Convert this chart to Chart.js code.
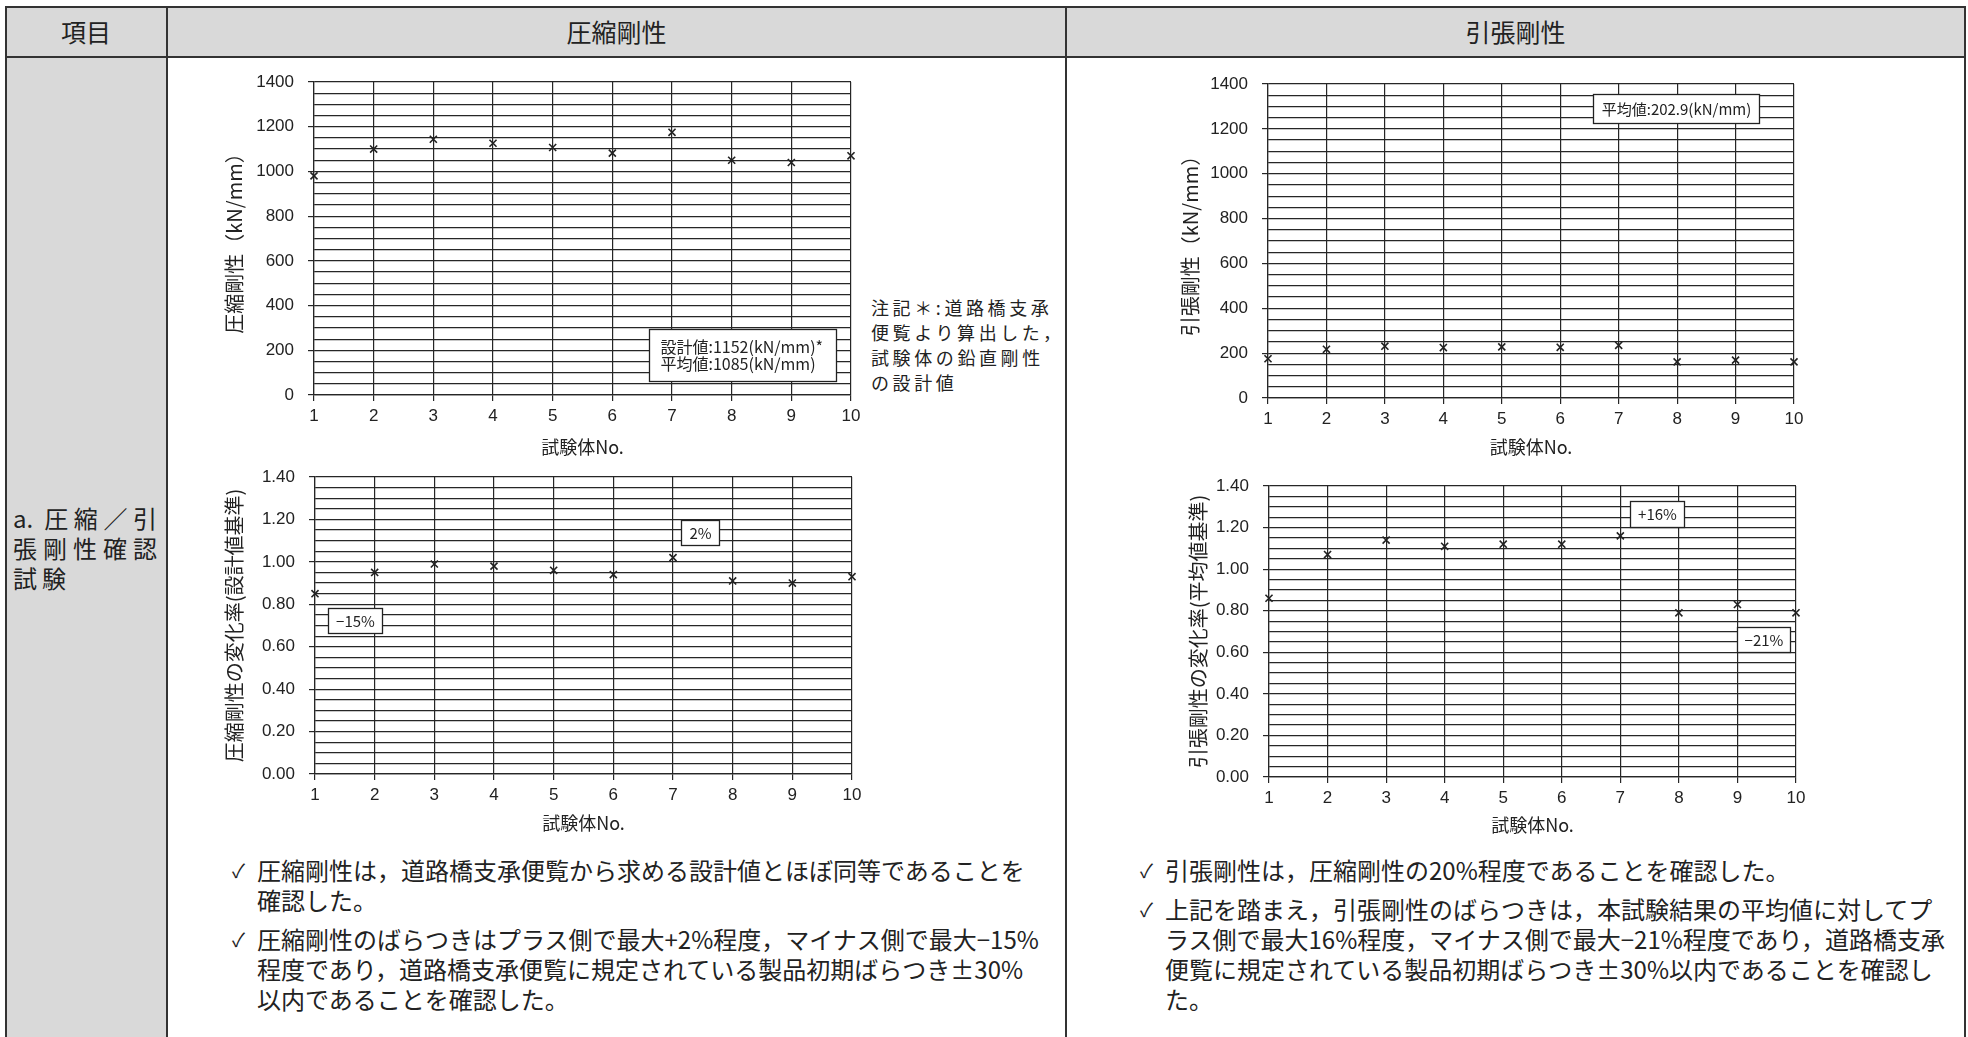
<!DOCTYPE html>
<html lang="ja">
<head>
<meta charset="utf-8">
<script src="https://cdn.jsdelivr.net/npm/chart.js@4.4.1/dist/chart.umd.min.js"></script>
<style>
  html, body { margin: 0; padding: 0; background: #fff; }
  body { width: 1968px; height: 1037px; position: relative; overflow: hidden;
         font-family: "Noto Sans CJK JP", sans-serif; color: #222; }
  .gray { position: absolute; background: #d9d9d9; }
  .line { position: absolute; background: #333; }
  .head { position: absolute; top: 6px; height: 51px; line-height: 51px; font-size: 25px; text-align: center; }
  .item-name { position: absolute; left: 13px; top: 503px; width: 144px; font-size: 24px; line-height: 30px; }
  .item-name div { text-align: justify; text-align-last: justify; }
  .item-name div.last { text-align: left; text-align-last: left; letter-spacing: 5px; }
  .note { position: absolute; left: 871px; top: 295px; font-size: 18px; line-height: 25px; letter-spacing: 3.6px; white-space: nowrap; }
  .memo { position: absolute; top: 855px; font-size: 24px; letter-spacing: 0; white-space: nowrap; }
  .memo .item { position: relative; padding-left: 25px; line-height: 30px; margin-bottom: 9px; }
  .memo .ck { position: absolute; left: 0; font-size: 19px; }
</style>
</head>
<body>

<!-- table frame -->
<div class="gray" style="left:5px; top:6px; width:1960px; height:51px;"></div>
<div class="gray" style="left:5px; top:57px; width:162px; height:1000px;"></div>
<div class="line" style="left:5px; top:6px; width:1961px; height:1.5px;"></div>
<div class="line" style="left:5px; top:56px; width:1961px; height:1.5px;"></div>
<div class="line" style="left:5px; top:6px; width:1.5px; height:1040px;"></div>
<div class="line" style="left:166px; top:6px; width:1.5px; height:1040px;"></div>
<div class="line" style="left:1065px; top:6px; width:1.5px; height:1040px;"></div>
<div class="line" style="left:1964px; top:6px; width:1.5px; height:1040px;"></div>

<div class="head" style="left:5px; width:162px;">項目</div>
<div class="head" style="left:167px; width:899px;">圧縮剛性</div>
<div class="head" style="left:1066px; width:899px;">引張剛性</div>

<div class="item-name">
  <div>a. 圧縮／引</div>
  <div>張剛性確認</div>
  <div class="last">試験</div>
</div>

<div class="note">注記＊:道路橋支承<br>便覧より算出した，<br>試験体の鉛直剛性<br>の設計値</div>

<div class="memo" style="left:232px;">
  <div class="item"><span class="ck">✓</span>圧縮剛性は，道路橋支承便覧から求める設計値とほぼ同等であることを<br>確認した。</div>
  <div class="item"><span class="ck">✓</span>圧縮剛性のばらつきはプラス側で最大+2%程度，マイナス側で最大−15%<br>程度であり，道路橋支承便覧に規定されている製品初期ばらつき±30%<br>以内であることを確認した。</div>
</div>

<div class="memo" style="left:1140px;">
  <div class="item"><span class="ck">✓</span>引張剛性は，圧縮剛性の20%程度であることを確認した。</div>
  <div class="item"><span class="ck">✓</span>上記を踏まえ，引張剛性のばらつきは，本試験結果の平均値に対してプ<br>ラス側で最大16%程度，マイナス側で最大−21%程度であり，道路橋支承<br>便覧に規定されている製品初期ばらつき±30%以内であることを確認し<br>た。</div>
</div>

<script>
// 試験体No.
const specimenNo = [1, 2, 3, 4, 5, 6, 7, 8, 9, 10];

// 圧縮剛性 (kN/mm) と設計値基準の変化率
const compStiffness = [980, 1100, 1144, 1126, 1107, 1082, 1175, 1050, 1040, 1070];
const compRatio = [0.85, 0.95, 0.99, 0.98, 0.96, 0.94, 1.02, 0.91, 0.90, 0.93];

// 引張剛性 (kN/mm) と平均値基準の変化率
const tensStiffness = [175, 217, 231, 225, 228, 226, 235, 161, 169, 161];
const tensRatio = [0.86, 1.07, 1.14, 1.11, 1.12, 1.12, 1.16, 0.79, 0.83, 0.79];

// y軸の目盛ラベル
const stiffTicks = [0, 200, 400, 600, 800, 1000, 1200, 1400];
const ratioTicks = [0.00, 0.20, 0.40, 0.60, 0.80, 1.00, 1.20, 1.40];

const YW = 130, PT = 25, PR = 40, XH = 75;
const tickFont = { family: '"Liberation Sans", Arial, sans-serif', size: 17 };
const xTitleFont = { family: '"Noto Sans CJK JP", sans-serif', size: 18 };
const yTitleFont = { family: '"Noto Sans CJK JP", sans-serif', size: 20 };
const ink = '#222';
const gridInk = '#262626';

function noteBoxes(notes) {
    return {
        id: 'noteBoxes',
        afterDatasetsDraw(chart) {
            const { ctx, scales } = chart;
            notes.forEach(n => {
                const x0 = Math.round(scales.x.getPixelForValue(n.x)) + 0.5;
                const y0 = Math.round(scales.y.getPixelForValue(n.y)) + 0.5;
                ctx.save();
                ctx.fillStyle = '#fff';
                ctx.strokeStyle = '#222';
                ctx.lineWidth = 1.3;
                ctx.fillRect(x0, y0, n.w, n.h);
                ctx.strokeRect(x0, y0, n.w, n.h);
                ctx.fillStyle = ink;
                ctx.font = (n.size || 15) + 'px "Noto Sans CJK JP", sans-serif';
                ctx.textBaseline = 'middle';
                ctx.textAlign = n.align || 'center';
                n.lines.forEach((s, i) => {
                    const ty = y0 + (i + 1) * n.h / (n.lines.length + 1);
                    const tx = n.align === 'left' ? x0 + 11 : x0 + n.w / 2;
                    ctx.fillText(s, tx, ty);
                });
                ctx.restore();
            });
        }
    };
}

function drawChart(box, yTitle, yMax, yStep, yLabels, digits, values, notes) {
    const w = box.r - box.l + YW + PR;
    const h = box.b - box.t + PT + XH;
    const wrap = document.createElement('div');
    wrap.style.cssText = `position:absolute;left:${box.l - YW}px;top:${box.t - PT}px;width:${w}px;height:${h}px;`;
    const cv = document.createElement('canvas');
    cv.width = w;
    cv.height = h;
    cv.style.width = w + 'px';
    cv.style.height = h + 'px';
    wrap.appendChild(cv);
    document.body.appendChild(wrap);

    const isLabel = v => yLabels.some(t => Math.abs(t - v) < yStep / 10);

    return new Chart(cv, {
        type: 'scatter',
        data: {
            datasets: [{
                data: specimenNo.map((n, i) => ({ x: n, y: values[i] })),
                pointStyle: 'crossRot',
                pointRadius: 5,
                pointHoverRadius: 5,
                borderColor: ink,
                backgroundColor: ink,
                borderWidth: 1.6,
                clip: false
            }]
        },
        options: {
            responsive: false,
            animation: false,
            events: [],
            layout: { padding: { left: 0, top: PT, right: PR, bottom: 0 } },
            plugins: { legend: { display: false }, tooltip: { enabled: false } },
            scales: {
                x: {
                    type: 'linear',
                    min: 1,
                    max: 10,
                    ticks: { stepSize: 1, autoSkip: false, maxRotation: 0, font: tickFont, color: ink, padding: 5 },
                    grid: { color: gridInk, lineWidth: 1.2, tickLength: 6, tickColor: gridInk },
                    border: { color: gridInk, width: 1.2 },
                    title: {
                        display: true, text: '試験体No.', font: xTitleFont, color: ink,
                        padding: { top: 0, bottom: XH - (box.xTitleY - box.b) - 10.8 }
                    },
                    afterFit: s => { s.height = XH; }
                },
                y: {
                    type: 'linear',
                    min: 0,
                    max: yMax,
                    ticks: {
                        stepSize: yStep, autoSkip: false, font: tickFont, color: ink, padding: 14,
                        callback: v => isLabel(v) ? v.toFixed(digits) : ''
                    },
                    grid: {
                        color: gridInk, lineWidth: 1.2, tickLength: 6,
                        tickColor: c => isLabel(c.tick.value) ? gridInk : 'rgba(0,0,0,0)'
                    },
                    border: { color: gridInk, width: 1.2 },
                    title: {
                        display: true, text: yTitle, font: yTitleFont, color: ink,
                        padding: { top: box.yTitleX - (box.l - YW) - 12, bottom: 0 }
                    },
                    afterFit: s => { s.width = YW; }
                }
            }
        },
        plugins: [noteBoxes(notes)]
    });
}

drawChart({ l: 314, r: 851, t: 82, b: 395, yTitleX: 234, xTitleY: 447 },
    '圧縮剛性（kN/mm）', 1400, 50, stiffTicks, 0, compStiffness,
    [{ x: 6.61, y: 296, w: 187, h: 52, align: 'left', size: 16,
       lines: ['設計値:1152(kN/mm)*', '平均値:1085(kN/mm)'] }]);

drawChart({ l: 315, r: 852, t: 477, b: 774, yTitleX: 234, xTitleY: 823 },
    '圧縮剛性の変化率(設計値基準)', 1.4, 0.05, ratioTicks, 2, compRatio,
    [{ x: 1.22, y: 0.783, w: 54, h: 25, lines: ['−15%'] },
     { x: 7.13, y: 1.198, w: 38, h: 25, lines: ['2%'] }]);

drawChart({ l: 1268, r: 1794, t: 84, b: 398, yTitleX: 1190, xTitleY: 447 },
    '引張剛性（kN/mm）', 1400, 50, stiffTicks, 0, tensStiffness,
    [{ x: 6.56, y: 1355, w: 166, h: 29, size: 15, lines: ['平均値:202.9(kN/mm)'] }]);

drawChart({ l: 1269, r: 1796, t: 486, b: 777, yTitleX: 1198, xTitleY: 825 },
    '引張剛性の変化率(平均値基準)', 1.4, 0.05, ratioTicks, 2, tensRatio,
    [{ x: 7.16, y: 1.328, w: 54, h: 26, lines: ['+16%'] },
     { x: 8.99, y: 0.722, w: 53, h: 25, lines: ['−21%'] }]);
</script>
</body>
</html>
